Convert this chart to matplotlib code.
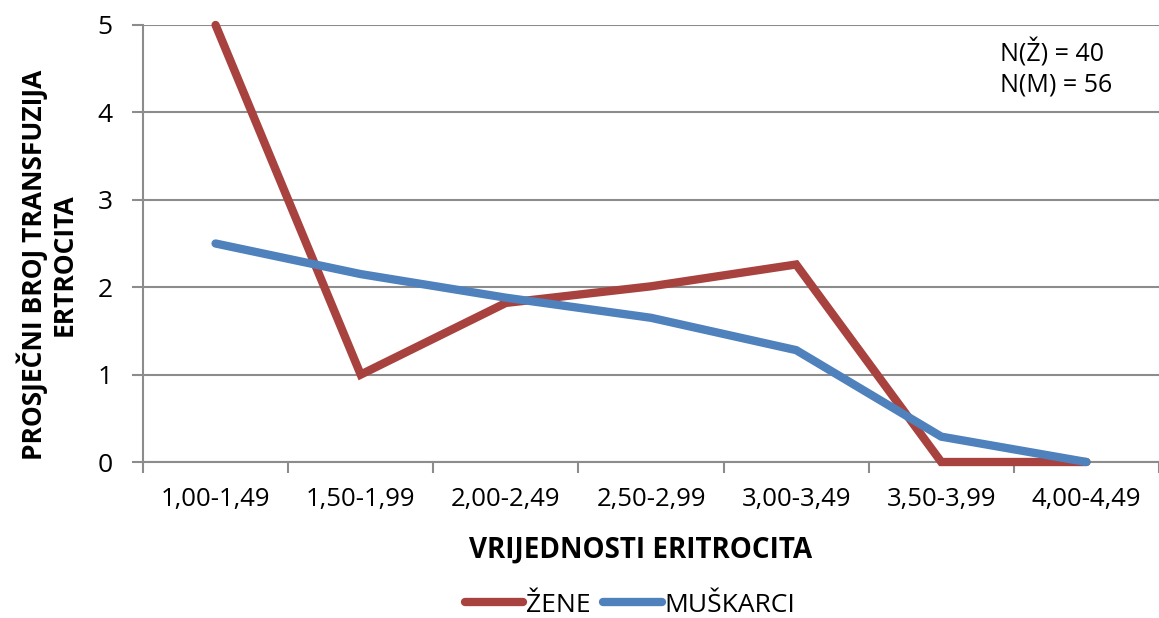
import matplotlib
matplotlib.use('Agg')
import matplotlib.pyplot as plt

categories = ['1,00-1,49', '1,50-1,99', '2,00-2,49', '2,50-2,99',
              '3,00-3,49', '3,50-3,99', '4,00-4,49']
zene = [5.0, 1.0, 1.82, 2.01, 2.26, 0.0, 0.0]
muskarci = [2.5, 2.15, 1.88, 1.65, 1.28, 0.29, 0.0]

plt.rcParams['font.family'] = ['Open Sans', 'DejaVu Sans']

fig = plt.figure(figsize=(11.59, 6.18), dpi=100)
ax = fig.add_axes([143 / 1159, 1 - 462 / 618, 1 - 143 / 1159, (462 - 25) / 618])

x = list(range(len(categories)))
grid_c = '#8c8c8c'
ax.plot(x, zene, color='#A8423F', lw=6, label='ŽENE', solid_capstyle='round',
        solid_joinstyle='miter', clip_on=False, zorder=3)
ax.plot(x, muskarci, color='#4F81BD', lw=6, label='MUŠKARCI', solid_capstyle='round',
        solid_joinstyle='miter', clip_on=False, zorder=4)

ax.set_ylim(0, 5)
ax.set_xlim(-0.5, 6.5 - 8 / 146)
ax.set_yticks(range(6))
ax.yaxis.grid(True, color=grid_c, lw=1.5)
ax.set_axisbelow(True)
ax.set_xticks([i - 0.5 for i in range(8)], minor=False)
ax.set_xticklabels([])
ax.set_xticks(x, minor=True)
ax.set_xticklabels(categories, minor=True)
ax.tick_params(axis='x', which='major', length=8, width=1.5, color=grid_c, direction='out')
ax.tick_params(axis='x', which='minor', length=0, labelsize=18.5, pad=18)
ax.tick_params(axis='y', length=8, width=1.5, color=grid_c, direction='out', labelsize=19, pad=14)

for s in ['top', 'right']:
    ax.spines[s].set_visible(False)
ax.spines['left'].set_color(grid_c)
ax.spines['left'].set_linewidth(1.5)
ax.spines['bottom'].set_color(grid_c)
ax.spines['bottom'].set_linewidth(1.5)

xl = ax.set_xlabel('VRIJEDNOSTI ERITROCITA', fontsize=20, fontweight='bold')
xl.set_va('center')
ax.xaxis.set_label_coords((641 - 143) / 1016, (462 - 550) / 437)
yl = ax.set_ylabel('PROSJEČNI BROJ TRANSFUZIJA\nERTROCITA', fontsize=19, fontweight='bold',
                   linespacing=1.1)
yl.set_va('center')
ax.yaxis.set_label_coords((47 - 143) / 1016, (462 - 265) / 437)

ax.text((1000 - 143) / 1016, (462 - 68) / 437, 'N(Ž) = 40\nN(M) = 56', transform=ax.transAxes,
        fontsize=18, va='center', ha='left', linespacing=1.25)

fig.legend(loc='center', bbox_to_anchor=(630 / 1159, 1 - 605 / 618), ncol=2, frameon=False,
           fontsize=19, handlelength=2.2, handletextpad=0.1, columnspacing=0.5)

fig.savefig('out.png', dpi=100)
